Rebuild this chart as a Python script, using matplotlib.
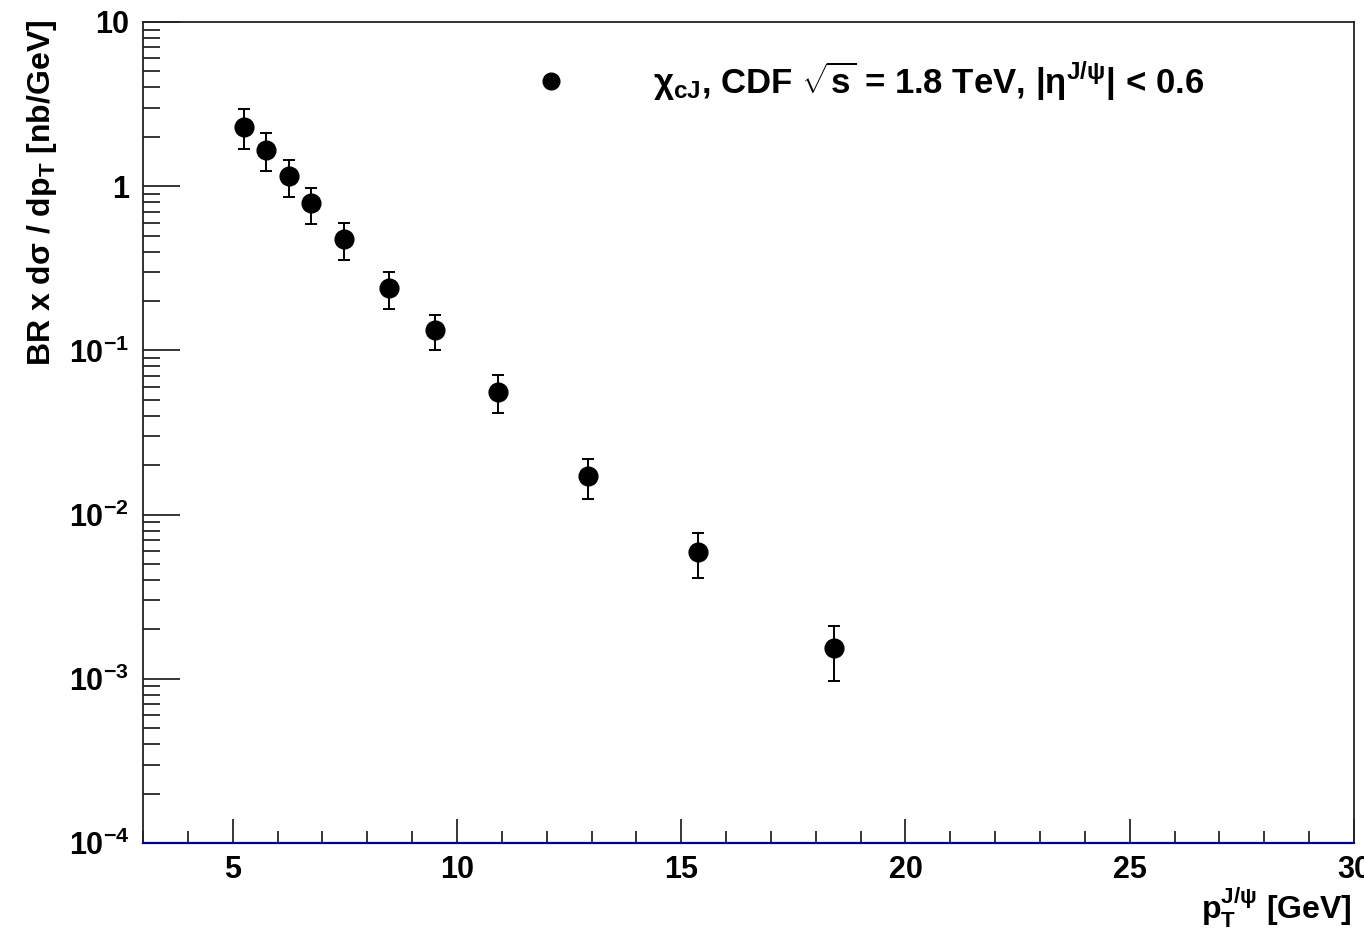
"""CDF chi_cJ cross section vs J/psi pT, ROOT-style log plot"""

import numpy as np
import matplotlib
matplotlib.use('Agg')
import matplotlib.pyplot as plt
from matplotlib.ticker import FixedLocator, FixedFormatter, LogLocator, MultipleLocator, NullFormatter

plt.rcParams['font.family'] = ['Liberation Sans', 'DejaVu Sans']
plt.rcParams['font.weight'] = 'bold'
plt.rcParams['mathtext.fontset'] = 'custom'
plt.rcParams['mathtext.rm'] = 'Liberation Sans:bold'
plt.rcParams['mathtext.it'] = 'Liberation Sans:bold'
plt.rcParams['mathtext.bf'] = 'Liberation Sans:bold'
plt.rcParams['mathtext.default'] = 'rm'

# data
pt = [5.25, 5.75, 6.26, 6.75, 7.49, 8.49, 9.50, 10.92, 12.93, 15.37, 18.40]
xsec = [2.30, 1.66, 1.15, 0.79, 0.477, 0.240, 0.133, 0.0558, 0.0172, 0.0059, 0.00154]
err_hi = [2.95, 2.11, 1.45, 0.97, 0.597, 0.300, 0.164, 0.0708, 0.0218, 0.00773, 0.0021]
err_lo = [1.69, 1.24, 0.86, 0.59, 0.356, 0.179, 0.1005, 0.0416, 0.01245, 0.00411, 0.00097]

ytick_vals = [1e-4, 1e-3, 1e-2, 1e-1, 1, 10]
ytick_labels = [r'$10^{-4}$', r'$10^{-3}$', r'$10^{-2}$', r'$10^{-1}$', '1', '10']
xtick_vals = [5, 10, 15, 20, 25, 30]

xsec = np.array(xsec)
yerr = [xsec - np.array(err_lo), np.array(err_hi) - xsec]

fig = plt.figure(figsize=(13.64, 9.31), dpi=100)
ax = fig.add_axes([143 / 1364, 88 / 931, (1354 - 143) / 1364, (843 - 22) / 931])

ax.errorbar(pt, xsec, yerr=yerr, fmt='o', color='black', ms=13.5,
            elinewidth=1.4, capsize=4, capthick=1.4, zorder=3)

ax.set_yscale('log')
ax.set_xlim(3, 30)
ax.set_ylim(1e-4, 10)

ax.yaxis.set_major_locator(FixedLocator(ytick_vals))
ax.yaxis.set_major_formatter(FixedFormatter(ytick_labels))
ax.yaxis.set_minor_locator(LogLocator(base=10, subs=np.arange(2, 10)))
ax.yaxis.set_minor_formatter(NullFormatter())
ax.xaxis.set_major_locator(FixedLocator(xtick_vals))
ax.xaxis.set_minor_locator(MultipleLocator(1))

ax.tick_params(axis='y', which='major', direction='in', length=26.5, width=1.1,
               labelsize=22, pad=10)
ax.tick_params(axis='y', which='minor', direction='in', length=12.5, width=1.1)
ax.tick_params(axis='x', which='major', direction='in', length=17, width=1.1,
               labelsize=22, pad=9)
ax.tick_params(axis='x', which='minor', direction='in', length=8.6, width=1.1)
for lab in ax.get_xticklabels() + ax.get_yticklabels():
    lab.set_fontweight('bold')

for s in ['left', 'top', 'right']:
    ax.spines[s].set_linewidth(1.3)
    ax.spines[s].set_color('#222222')
ax.spines['bottom'].set_color('#00008b')
ax.spines['bottom'].set_linewidth(1.6)

ax.set_ylabel(r'BR x d$\sigma$ / dp$_{T}$ [nb/GeV]', fontsize=23,
              fontweight='bold', loc='top')
ax.yaxis.set_label_coords(-0.069, 1.003)
ax.set_xlabel(r'p$_{T}^{J/\psi}$ [GeV]', fontsize=23, fontweight='bold', loc='right')
ax.xaxis.set_label_coords(0.9985, -0.052)

# legend entry
ax.plot([12.1], [4.4], 'o', color='black', ms=12)
ax.text(0.421, 0.927, r'$\chi_{cJ}$, CDF $\sqrt{s}$ = 1.8 TeV, |$\eta^{J/\psi}$| < 0.6',
        transform=ax.transAxes, fontsize=25, fontweight='bold', va='center', ha='left')

fig.savefig('out.png', dpi=100)
